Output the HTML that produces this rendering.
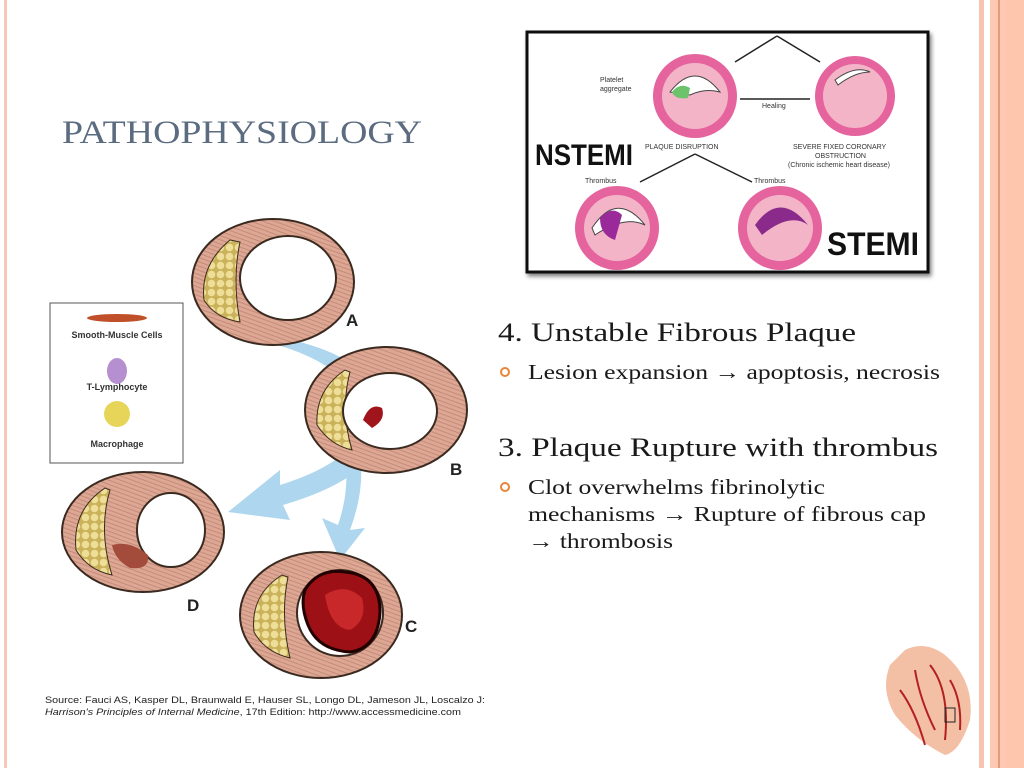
<!DOCTYPE html>
<html><head><meta charset="utf-8"><style>
html,body{margin:0;padding:0;background:#fff;}
svg{display:block;}
</style></head><body>
<svg width="1024" height="768" viewBox="0 0 1024 768" xmlns="http://www.w3.org/2000/svg" font-family="Liberation Serif, serif">
<defs>
<pattern id="mus" width="8" height="4" patternUnits="userSpaceOnUse" patternTransform="rotate(20)">
<rect width="8" height="4" fill="#dca793"/><line x1="0" y1="2" x2="8" y2="2" stroke="#b8776a" stroke-width="0.6"/>
</pattern>
<pattern id="fat" width="9" height="9" patternUnits="userSpaceOnUse">
<rect width="9" height="9" fill="#c9b25a"/><circle cx="4.5" cy="4.5" r="3.8" fill="#eede98"/>
</pattern>
<filter id="sh"><feDropShadow dx="2" dy="3" stdDeviation="2" flood-opacity="0.5"/></filter>
</defs>
<!-- frame -->
<rect x="4" y="0" width="3" height="768" fill="#f7c8b8"/>
<rect x="979" y="0" width="5" height="768" fill="#f8c4b2"/>
<rect x="990" y="0" width="34" height="768" fill="#fdc9b3"/>
<rect x="998" y="0" width="2" height="768" fill="#e59a7c"/>
<rect x="1006" y="0" width="18" height="768" fill="#ffc6ae"/>

<text x="62" y="143" font-size="33" fill="#5b6b80" textLength="360" lengthAdjust="spacingAndGlyphs">PATHOPHYSIOLOGY</text>

<!-- blue arrows -->
<g fill="#aed6ee">
<path d="M278 345 Q360 370 360 420 Q360 460 280 485 L280 470 L228 512 L290 520 L283 505 Q385 475 385 420 Q385 365 300 342 Z"/>
<path d="M345 455 Q350 490 338 525 L322 518 L340 560 L365 528 L350 530 Q365 490 360 455 Z"/>
</g>

<!-- vessels -->
<g stroke="#3a2a20" stroke-width="2">
<ellipse cx="273" cy="282" rx="81" ry="63" fill="url(#mus)"/>
<path d="M230 240 Q200 265 204 300 Q215 318 240 322 Q232 280 240 242Z" fill="url(#fat)" stroke-width="1"/>
<ellipse cx="288" cy="278" rx="48" ry="42" fill="#fff"/>

<ellipse cx="386" cy="410" rx="81" ry="63" fill="url(#mus)"/>
<path d="M345 370 Q315 390 317 425 Q330 445 352 450 Q340 410 350 372Z" fill="url(#fat)" stroke-width="1"/>
<ellipse cx="390" cy="411" rx="47" ry="38" fill="#fff"/>
<path d="M363 420 Q370 402 382 408 Q386 420 372 428Z" fill="#a0141c" stroke="none"/>

<ellipse cx="143" cy="532" rx="81" ry="60" fill="url(#mus)"/>
<path d="M105 488 Q72 510 76 550 Q88 570 112 575 Q98 530 110 490Z" fill="url(#fat)" stroke-width="1"/>
<ellipse cx="171" cy="530" rx="34" ry="37" fill="#fff"/>
<path d="M112 545 Q130 540 148 555 Q150 570 130 568 Q115 560 112 545Z" fill="#a44c3c" stroke="none"/>

<ellipse cx="321" cy="615" rx="81" ry="63" fill="url(#mus)"/>
<path d="M282 575 Q250 595 254 632 Q265 652 290 658 Q280 615 288 577Z" fill="url(#fat)" stroke-width="1"/>
<ellipse cx="340" cy="613" rx="43" ry="43" fill="#fff"/>
<path d="M305 590 Q318 568 345 572 Q380 575 380 612 Q378 648 350 652 Q318 650 308 625 Q300 605 305 590Z" fill="#9c1016" stroke="#200" stroke-width="3"/>
<path d="M325 595 Q345 582 362 598 Q368 620 350 630 Q330 628 325 595Z" fill="#c8282a" stroke="none"/>
</g>
<g font-family="Liberation Sans, sans-serif" font-weight="bold" font-size="17" fill="#222">
<text x="346" y="326">A</text><text x="450" y="475">B</text><text x="187" y="611">D</text><text x="405" y="632">C</text>
</g>

<!-- legend -->
<rect x="50" y="303" width="133" height="160" fill="#fff" stroke="#555" stroke-width="1"/>
<ellipse cx="117" cy="318" rx="30" ry="4" fill="#c0502a"/>
<ellipse cx="117" cy="371" rx="10" ry="13" fill="#b58fd0"/>
<circle cx="117" cy="414" r="13" fill="#e7d55a"/>
<g font-family="Liberation Sans, sans-serif" font-size="9" fill="#333" text-anchor="middle" font-weight="bold">
<text x="117" y="338">Smooth-Muscle Cells</text><text x="117" y="390">T-Lymphocyte</text><text x="117" y="447">Macrophage</text>
</g>

<g font-family="Liberation Sans, sans-serif" font-size="9" fill="#222">
<text x="45" y="703" textLength="440" lengthAdjust="spacingAndGlyphs">Source: Fauci AS, Kasper DL, Braunwald E, Hauser SL, Longo DL, Jameson JL, Loscalzo J:</text>
<text x="45" y="715" textLength="416" lengthAdjust="spacingAndGlyphs"><tspan font-style="italic">Harrison's Principles of Internal Medicine</tspan>, 17th Edition: http://www.accessmedicine.com</text>
</g>

<!-- top right figure -->
<rect x="527" y="32" width="401" height="240" fill="#fff" stroke="#111" stroke-width="3" filter="url(#sh)"/>
<g stroke="#222" stroke-width="1.5" fill="none">
<path d="M777 36 L735 62 M777 36 L820 62 M740 99 L810 99 M695 154 L640 182 M695 154 L752 182"/>
</g>
<g>
<circle cx="695" cy="96" r="42" fill="#e5649e"/><circle cx="695" cy="96" r="33" fill="#f3b4c8"/>
<path d="M670 92 Q695 60 720 92 Q705 88 690 95Z" fill="#fff" stroke="#444"/>
<path d="M672 92 Q680 82 690 88 L688 98 Q675 100 672 92Z" fill="#6cc36c"/>
<circle cx="855" cy="96" r="40" fill="#e5649e"/><circle cx="855" cy="96" r="32" fill="#f3b4c8"/>
<path d="M835 80 Q855 65 870 72 Q855 72 838 85Z" fill="#fff" stroke="#444"/>
<circle cx="617" cy="228" r="42" fill="#e5649e"/><circle cx="617" cy="228" r="33" fill="#f3b4c8"/>
<path d="M592 228 Q617 190 645 225 Q625 215 595 235Z" fill="#fff" stroke="#444"/>
<path d="M600 218 Q612 205 622 215 L615 240 Q600 235 600 218Z" fill="#9a2a9a"/>
<circle cx="780" cy="228" r="42" fill="#e5649e"/><circle cx="780" cy="228" r="33" fill="#f3b4c8"/>
<path d="M755 225 Q780 190 808 225 Q790 212 762 235Z" fill="#8a2a8a"/>
</g>
<g font-family="Liberation Sans, sans-serif" font-size="7" fill="#333">
<text x="600" y="82">Platelet</text><text x="600" y="91">aggregate</text>
<text x="762" y="108">Healing</text>
<text x="645" y="149">PLAQUE DISRUPTION</text>
<text x="793" y="149">SEVERE FIXED CORONARY</text>
<text x="815" y="158">OBSTRUCTION</text>
<text x="788" y="167">(Chronic ischemic heart disease)</text>
<text x="585" y="183">Thrombus</text><text x="754" y="183">Thrombus</text>
</g>
<g font-family="Liberation Sans, sans-serif" font-weight="bold" fill="#111">
<text x="535" y="165" font-size="30" textLength="98" lengthAdjust="spacingAndGlyphs">NSTEMI</text>
<text x="827" y="255" font-size="32" textLength="92" lengthAdjust="spacingAndGlyphs">STEMI</text>
</g>

<!-- right text -->
<g fill="#1a1a1a">
<text x="498" y="341" font-size="26" textLength="358" lengthAdjust="spacingAndGlyphs">4. Unstable Fibrous Plaque</text>
<text x="528" y="379" font-size="21" textLength="412" lengthAdjust="spacingAndGlyphs">Lesion expansion → apoptosis, necrosis</text>
<text x="498" y="456" font-size="26" textLength="440" lengthAdjust="spacingAndGlyphs">3. Plaque Rupture with thrombus</text>
<text x="528" y="494" font-size="21" textLength="297" lengthAdjust="spacingAndGlyphs">Clot overwhelms fibrinolytic</text>
<text x="528" y="521" font-size="21" textLength="398" lengthAdjust="spacingAndGlyphs">mechanisms → Rupture of fibrous cap</text>
<text x="528" y="548" font-size="21" textLength="145" lengthAdjust="spacingAndGlyphs">→ thrombosis</text>
</g>
<circle cx="505" cy="372" r="4" fill="none" stroke="#e8853a" stroke-width="2"/>
<circle cx="505" cy="487" r="4" fill="none" stroke="#e8853a" stroke-width="2"/>

<!-- heart -->
<path d="M905 650 Q925 640 945 655 Q975 680 970 720 Q960 752 945 755 Q915 740 895 715 Q880 690 890 665Z" fill="#f3c0a6"/>
<g stroke="#b42020" stroke-width="2" fill="none">
<path d="M915 670 Q920 700 935 730 M930 665 Q950 690 945 740 M900 690 Q915 710 925 745 M950 680 Q962 700 960 730"/>
</g>
<rect x="945" y="708" width="10" height="14" fill="none" stroke="#222"/>
</svg>
</body></html>
